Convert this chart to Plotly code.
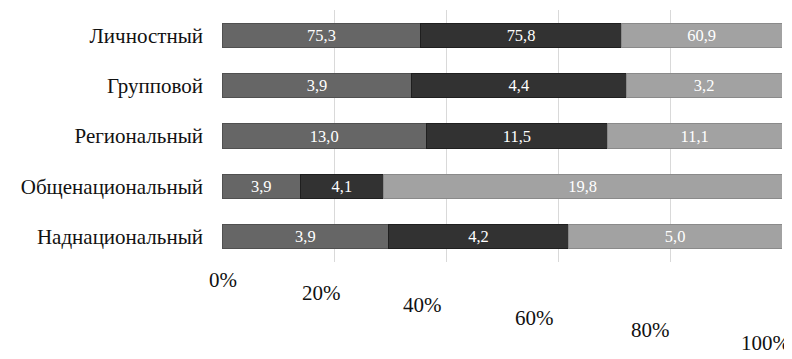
import plotly.graph_objects as go

categories = ["Личностный", "Групповой", "Региональный", "Общенациональный", "Наднациональный"]
series_a = [75.3, 3.9, 13.0, 3.9, 3.9]
series_b = [75.8, 4.4, 11.5, 4.1, 4.2]
series_c = [60.9, 3.2, 11.1, 19.8, 5.0]
tick_vals = [0, 20, 40, 60, 80, 100]
tick_text = ["0%", "20%", "40%", "60%", "80%", "100%"]

colors = ["#666666", "#323232", "#a2a2a2"]
line_colors = ["#505050", "#1f1f1f", "#8a8a8a"]
FONT = "Liberation Serif"
# perspective-like offsets of the percent labels (style only)
label_xshift = [1, -13, -24, -24, -20, -17]


def fmt(v):
    return f"{v:.1f}".replace(".", ",")


fig = go.Figure()
for vals, col, lc in zip([series_a, series_b, series_c], colors, line_colors):
    fig.add_trace(go.Bar(
        y=categories, x=vals, orientation="h",
        marker=dict(color=col, line=dict(color=lc, width=1)),
        text=[fmt(v) for v in vals], textposition="inside",
        insidetextanchor="middle",
        textfont=dict(family=FONT, size=19, color="white"),
        hoverinfo="skip", showlegend=False,
    ))

for i, (tv, tt) in enumerate(zip(tick_vals, tick_text)):
    fig.add_annotation(
        x=tv, y=0, xref="x", yref="paper", text=tt, showarrow=False,
        yanchor="top", xanchor="center",
        xshift=label_xshift[i], yshift=-4 - 12.5 * i,
        font=dict(family=FONT, size=21, color="#111111"),
    )

fig.update_layout(
    barmode="stack", barnorm="percent", bargap=0.52,
    width=792, height=359,
    margin=dict(l=214, r=18, t=2, b=105),
    paper_bgcolor="white", plot_bgcolor="white",
    font=dict(family=FONT, size=21, color="#111111"),
    uniformtext=dict(minsize=10, mode="show"),
)
fig.update_xaxes(
    range=[0, 100], tickvals=tick_vals, showticklabels=False,
    showgrid=True, gridcolor="#d9d9d9", gridwidth=1,
    zeroline=False, showline=False, ticks="",
)
fig.update_yaxes(
    autorange="reversed", showgrid=False, showline=False, ticks="",
    tickfont=dict(family=FONT, size=21, color="#111111"),
    ticklabelstandoff=18,
)

fig.write_html("out.html")
